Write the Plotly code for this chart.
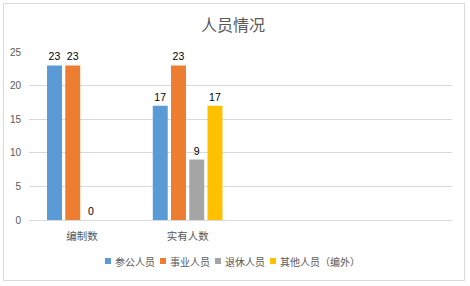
import plotly.graph_objects as go

categories = ["编制数", "实有人数"]
series_names = ["参公人员", "事业人员", "退休人员", "其他人员（编外）"]
s_cangong = [23, 17]
s_shiye = [23, 23]
s_tuixiu = [0, 9]
s_qita = [None, 17]
colors = ["#5B9BD5", "#ED7D31", "#A5A5A5", "#FFC000"]
y_ticks = [0, 5, 10, 15, 20, 25]

cjk = "Noto Sans CJK SC"
num_font = "Liberation Sans"

fig = go.Figure()
for name, vals, c in zip(series_names, [s_cangong, s_shiye, s_tuixiu, s_qita], colors):
    fig.add_trace(go.Bar(
        name=name, x=categories, y=vals, marker=dict(color=c, line=dict(width=0)),
        text=[("" if v is None else str(v)) for v in vals],
        textposition="outside", cliponaxis=False,
        textfont=dict(color="#000000", size=10.5, family=num_font),
        showlegend=False,
    ))

W, H = 470, 286
L, R, T, B = 29, 18, 52, 66
pw, ph = W - L - R, H - T - B

def px(x):
    return (x - L) / pw

def py(y):
    return (H - B - y) / ph

fig.update_layout(
    width=W, height=H,
    margin=dict(l=L, r=R, t=T, b=B, autoexpand=False),
    paper_bgcolor="white", plot_bgcolor="white",
    barmode="group", bargap=0.31, bargroupgap=0.18,
    title=dict(text="人员情况", x=233 / W, xanchor="center", y=1 - 25 / H, yanchor="middle",
               font=dict(family=cjk, size=16, color="#595959")),
    xaxis=dict(type="category", categoryarray=categories, range=[-0.5, 3.5],
               showgrid=False, showline=True, linecolor="#D9D9D9", linewidth=1,
               ticks="", ticklabelstandoff=6, automargin=False,
               tickfont=dict(family=cjk, size=10.5, color="#595959")),
    yaxis=dict(range=[0, 25], tickvals=y_ticks, showgrid=True, gridcolor="#D9D9D9",
               gridwidth=1, zeroline=False, showline=False, ticks="", ticklabelstandoff=7,
               automargin=False,
               tickfont=dict(family=num_font, size=10, color="#595959")),
    showlegend=False,
    font=dict(family=cjk),
)

# legend drawn manually (compact, like the original)
leg_y = 261
leg_x0 = 105
leg_step = 55
for i, (name, c) in enumerate(zip(series_names, colors)):
    sx = leg_x0 + i * leg_step
    fig.add_shape(type="rect", xref="paper", yref="paper",
                  x0=px(sx), x1=px(sx + 6), y0=py(leg_y + 3), y1=py(leg_y - 3),
                  line=dict(width=0), fillcolor=c)
    fig.add_annotation(xref="paper", yref="paper", x=px(sx + 8), y=py(leg_y),
                       xanchor="left", yanchor="middle", showarrow=False, text=name,
                       font=dict(family=cjk, size=10, color="#595959"))

fig.add_shape(type="rect", xref="paper", yref="paper",
              x0=px(3.5), x1=px(464.5), y0=py(280.5), y1=py(3.5),
              line=dict(color="#D9D9D9", width=1), fillcolor="rgba(0,0,0,0)", layer="below")

fig.write_html("out.html")
